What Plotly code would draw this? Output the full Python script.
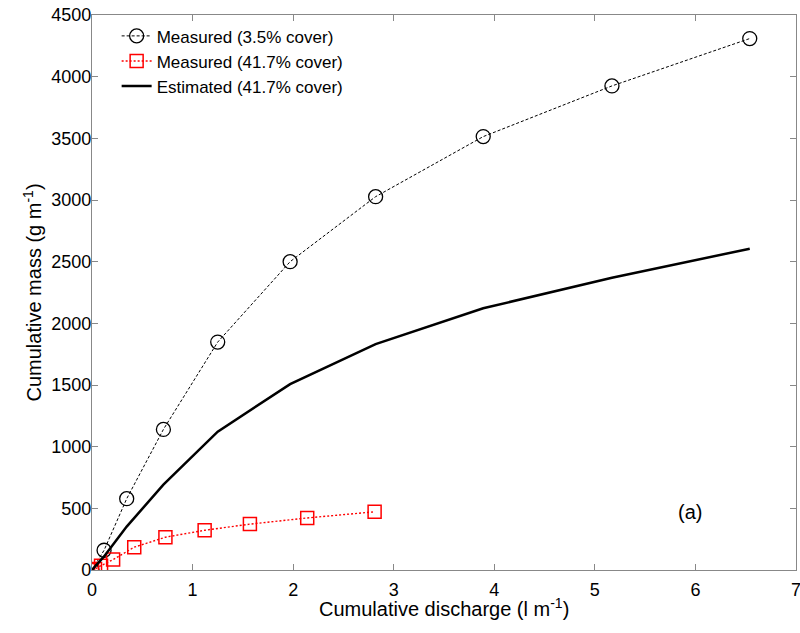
import plotly.graph_objects as go

# Measured, 3.5% cover
x_m35 = [0.0, 0.12, 0.345, 0.71, 1.25, 1.97, 2.82, 3.89, 5.17, 6.54]
y_m35 = [0, 160, 578, 1140, 1848, 2500, 3027, 3514, 3925, 4309]

# Measured, 41.7% cover
x_m417 = [0.0, 0.03, 0.09, 0.21, 0.42, 0.73, 1.12, 1.57, 2.14, 2.81]
y_m417 = [0, 8, 35, 85, 185, 266, 322, 372, 422, 472]

# Estimated, 41.7% cover
x_e417 = [0.0, 0.12, 0.345, 0.71, 1.25, 1.97, 2.82, 3.89, 5.17, 6.54]
y_e417 = [0, 110, 352, 692, 1122, 1507, 1832, 2122, 2370, 2605]

x_ticks = [0, 1, 2, 3, 4, 5, 6, 7]
y_ticks = [0, 500, 1000, 1500, 2000, 2500, 3000, 3500, 4000, 4500]

FONT = "Liberation Sans, Arial, sans-serif"

fig = go.Figure()
fig.add_trace(go.Scatter(
    x=x_m35, y=y_m35, mode="lines+markers", name="Measured (3.5% cover)",
    line=dict(color="black", width=1, dash="3px,2px"),
    marker=dict(symbol="circle-open", size=14, color="black", line=dict(width=1.3, color="black")),
))
fig.add_trace(go.Scatter(
    x=x_m417, y=y_m417, mode="lines+markers", name="Measured (41.7% cover)",
    line=dict(color="red", width=1.4, dash="2px,2px"),
    marker=dict(symbol="square-open", size=13, color="red", line=dict(width=1.5, color="red")),
))
fig.add_trace(go.Scatter(
    x=x_e417, y=y_e417, mode="lines", name="Estimated (41.7% cover)",
    line=dict(color="black", width=2.5),
))

fig.add_annotation(x=5.95, y=470, text="(a)", showarrow=False,
                   font=dict(family=FONT, size=20, color="black"))

# axis titles as annotations for precise placement
fig.add_annotation(x=0.5, y=0, xref="paper", yref="paper", yanchor="top", yshift=-23,
                   text="Cumulative discharge (l m<sup>-1</sup>)", showarrow=False,
                   font=dict(family=FONT, size=20, color="black"))
fig.add_annotation(x=0, y=0.5, xref="paper", yref="paper", xanchor="center", xshift=-60,
                   text="Cumulative mass (g m<sup>-1</sup>)", showarrow=False, textangle=-90,
                   font=dict(family=FONT, size=20, color="black"))

axis_common = dict(
    showgrid=False, zeroline=False, showline=True, linecolor="#888888", linewidth=1.2,
    mirror="ticks", ticks="inside", ticklen=6, tickcolor="#888888",
    tickfont=dict(family=FONT, size=18, color="black"), automargin=False,
)
fig.update_xaxes(range=[0, 7], tickvals=x_ticks, ticktext=[str(v) for v in x_ticks],
                 ticklabelstandoff=3, ticklabeloverflow="allow", **axis_common)
fig.update_yaxes(range=[0, 4500], tickvals=y_ticks, ticktext=[str(v) for v in y_ticks],
                 ticklabelstandoff=-4, **axis_common)

fig.update_layout(
    width=800, height=633,
    margin=dict(l=92, r=4, t=15, b=63),
    paper_bgcolor="white", plot_bgcolor="white",
    font=dict(family=FONT, color="black"),
    legend=dict(x=0.035, y=0.994, xanchor="left", yanchor="top",
                bgcolor="rgba(0,0,0,0)", borderwidth=0,
                font=dict(family=FONT, size=17, color="black"),
                tracegroupgap=0),
    showlegend=True,
)

fig.write_html(
    "out.html",
    config={"displayModeBar": False},
    post_script="document.body.style.margin='0';document.body.style.overflow='hidden';",
)
